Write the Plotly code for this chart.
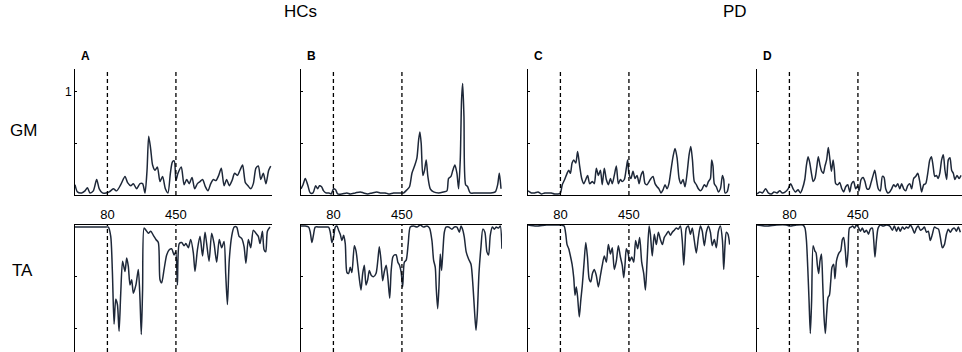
import plotly.graph_objects as go

# ---- datos: tiempo (ms) y amplitud normalizada ----

# GM, sanos (A)
t_gm_a = [-95, -82, -59, -41, -28, -14, 4, 22, 36, 53, 72, 90, 112, 130, 152, 175, 189, 206, 220, 238,
          256, 270, 283, 294, 303, 314, 324, 337, 350, 364, 378, 393, 407, 420, 431, 441, 450, 461, 479, 494,
          508, 522, 537, 551, 566, 580, 594, 609, 623, 638, 652, 666, 681, 695, 710, 724, 738, 753, 767, 782,
          796, 810, 825, 839, 854, 868, 882, 895, 908, 922, 936, 951, 962]
gm_a = [0.10, 0.03, 0.02, 0.04, 0.07, 0.02, 0.04, 0.15, 0.06, 0.02, 0.02, 0.03, 0.06, 0.04, 0.10, 0.18, 0.12, 0.09, 0.11, 0.06,
        0.11, 0.11, 0.02, 0.24, 0.57, 0.44, 0.29, 0.24, 0.27, 0.13, 0.18, 0.06, 0.02, 0.21, 0.32, 0.33, 0.14, 0.21, 0.27, 0.10,
        0.15, 0.11, 0.17, 0.06, 0.11, 0.13, 0.15, 0.08, 0.04, 0.11, 0.15, 0.14, 0.19, 0.26, 0.09, 0.15, 0.09, 0.14, 0.21, 0.19,
        0.24, 0.29, 0.12, 0.09, 0.06, 0.11, 0.26, 0.28, 0.15, 0.21, 0.11, 0.24, 0.28]

# TA, sanos (A)
t_ta_a = [-95, -32, 22, 67, 85, 98, 107, 116, 125, 134, 143, 152, 162, 175, 184, 193, 202, 211, 220, 234,
          247, 256, 263, 270, 278, 288, 301, 314, 328, 342, 355, 364, 373, 386, 400, 414, 427, 440, 449, 458,
          468, 481, 494, 504, 517, 530, 544, 553, 566, 580, 594, 607, 616, 629, 643, 656, 670, 684, 697, 710,
          719, 728, 738, 751, 764, 778, 791, 805, 818, 828, 841, 854, 868, 882, 895, 904, 917, 926, 935, 944, 958]
ta_a = [-0.02, -0.02, -0.02, -0.02, -0.02, -0.11, -0.46, -0.96, -0.72, -0.77, -1.03, -0.66, -0.35, -0.45, -0.32, -0.40, -0.58, -0.53, -0.66, -0.58,
        -0.43, -0.72, -1.06, -0.63, -0.03, -0.05, -0.08, -0.06, -0.10, -0.14, -0.17, -0.53, -0.56, -0.43, -0.29, -0.24, -0.23, -0.29, -0.26, -0.58,
        -0.18, -0.17, -0.20, -0.18, -0.22, -0.14, -0.27, -0.45, -0.24, -0.11, -0.30, -0.07, -0.18, -0.35, -0.08, -0.18, -0.36, -0.14, -0.22, -0.16,
        -0.48, -0.77, -0.34, -0.11, -0.02, -0.02, -0.11, -0.13, -0.21, -0.37, -0.14, -0.22, -0.05, -0.08, -0.11, -0.18, -0.06, -0.24, -0.26, -0.06, -0.02]

# GM, sanos (B)
t_gm_b = [-95, -84, -72, -59, -45, -30, -16, -5, 5, 16, 27, 41, 56, 68, 81, 92, 103, 126, 153, 171,
          198, 225, 243, 265, 288, 315, 333, 360, 378, 405, 427, 445, 459, 477, 491, 504, 518, 531, 540, 547,
          554, 563, 572, 581, 590, 603, 621, 648, 675, 693, 702, 715, 725, 736, 747, 756, 765, 772, 778, 785,
          794, 805, 819, 846, 873, 900, 927, 954, 967, 976, 985]
gm_b = [0.06, 0.10, 0.16, 0.10, 0.02, 0.02, 0.09, 0.06, 0.09, 0.08, 0.04, 0.02, 0.02, 0.01, 0.06, 0.05, 0.01, 0.01, 0.02, 0.01,
        0.02, 0.03, 0.02, 0.01, 0.02, 0.03, 0.02, 0.02, 0.01, 0.02, 0.02, 0.02, 0.02, 0.05, 0.08, 0.21, 0.28, 0.36, 0.53, 0.61,
        0.50, 0.19, 0.24, 0.34, 0.18, 0.06, 0.03, 0.02, 0.03, 0.04, 0.16, 0.18, 0.24, 0.29, 0.21, 0.06, 0.34, 0.92, 1.08, 0.76,
        0.10, 0.08, 0.02, 0.02, 0.02, 0.02, 0.02, 0.03, 0.10, 0.21, 0.06]

# TA, sanos (B)
t_ta_b = [-95, -72, -54, -45, -36, -27, -18, 5, 36, 54, 63, 72, 81, 90, 99, 108, 117, 126, 135, 144,
          153, 162, 171, 180, 193, 202, 211, 220, 229, 238, 247, 256, 265, 274, 285, 297, 310, 320, 328, 337,
          346, 355, 365, 374, 384, 392, 401, 410, 419, 428, 437, 446, 454, 463, 473, 484, 495, 513, 531, 549,
          567, 585, 599, 612, 621, 630, 635, 643, 650, 657, 664, 671, 679, 688, 702, 720, 733, 747, 760, 769,
          779, 787, 797, 810, 823, 834, 843, 850, 857, 866, 877, 887, 898, 909, 918, 927, 938, 949, 959, 972, 981, 990]
ta_b = [-0.01, -0.01, -0.02, -0.07, -0.17, -0.09, -0.02, -0.02, -0.02, -0.02, -0.07, -0.17, -0.12, -0.02, -0.01, -0.05, -0.09, -0.15, -0.10, -0.18,
        -0.46, -0.47, -0.41, -0.46, -0.20, -0.25, -0.38, -0.52, -0.63, -0.47, -0.39, -0.58, -0.53, -0.44, -0.49, -0.50, -0.47, -0.34, -0.21, -0.34,
        -0.54, -0.45, -0.39, -0.51, -0.71, -0.44, -0.31, -0.29, -0.29, -0.36, -0.39, -0.46, -0.60, -0.36, -0.34, -0.18, -0.02, -0.01, -0.02, 0.00,
        -0.02, -0.01, -0.03, -0.15, -0.34, -0.41, -0.60, -0.81, -0.60, -0.28, -0.44, -0.26, -0.07, -0.02, -0.02, -0.04, -0.02, -0.02, -0.07, -0.01,
        -0.05, -0.12, -0.26, -0.33, -0.38, -0.60, -0.86, -1.02, -0.86, -0.47, -0.21, -0.04, -0.07, -0.26, -0.29, -0.10, -0.02, -0.04, -0.02, -0.03,
        -0.01, -0.23]

# GM, Parkinson (C)
t_gm_c = [-95, -77, -59, -41, -23, -5, 13, 31, 49, 67, 80, 90, 103, 116, 125, 134, 143, 152, 163, 173,
          184, 195, 206, 217, 227, 238, 253, 263, 274, 285, 296, 306, 317, 328, 339, 350, 360, 371, 382, 393,
          404, 414, 425, 436, 443, 450, 461, 472, 483, 494, 505, 515, 526, 537, 548, 559, 569, 580, 591, 602,
          612, 623, 634, 645, 656, 666, 677, 688, 699, 710, 721, 731, 742, 753, 764, 775, 784, 793, 803, 814,
          825, 836, 846, 857, 868, 879, 890, 897, 904, 911, 922, 933, 944, 955, 962, 969, 980, 990]
gm_c = [0.04, 0.02, 0.02, 0.03, 0.01, 0.02, 0.02, 0.02, 0.01, 0.01, 0.02, 0.10, 0.15, 0.21, 0.24, 0.21, 0.31, 0.34, 0.31, 0.42,
        0.28, 0.16, 0.11, 0.15, 0.19, 0.11, 0.13, 0.11, 0.26, 0.19, 0.24, 0.10, 0.26, 0.15, 0.10, 0.16, 0.11, 0.19, 0.28, 0.11,
        0.15, 0.13, 0.15, 0.26, 0.34, 0.21, 0.16, 0.23, 0.16, 0.19, 0.11, 0.19, 0.23, 0.11, 0.10, 0.13, 0.16, 0.18, 0.11, 0.08,
        0.06, 0.02, 0.05, 0.10, 0.06, 0.11, 0.24, 0.37, 0.45, 0.36, 0.16, 0.11, 0.15, 0.08, 0.21, 0.39, 0.47, 0.34, 0.13, 0.10,
        0.06, 0.04, 0.06, 0.10, 0.08, 0.13, 0.16, 0.34, 0.28, 0.11, 0.08, 0.03, 0.06, 0.19, 0.15, 0.02, 0.03, 0.11]

# TA, Parkinson (C)
t_ta_c = [-95, -50, 4, 58, 85, 100, 109, 116, 125, 134, 143, 152, 159, 166, 173, 182, 190, 198, 208, 217,
          226, 235, 244, 253, 263, 274, 285, 296, 306, 317, 328, 339, 350, 360, 371, 382, 393, 404, 414, 422,
          429, 436, 445, 454, 465, 476, 486, 497, 508, 519, 530, 539, 548, 559, 566, 576, 587, 598, 609, 620,
          631, 641, 652, 663, 674, 684, 695, 706, 717, 728, 738, 746, 753, 760, 771, 782, 792, 803, 814, 825,
          836, 846, 857, 868, 879, 890, 900, 911, 922, 933, 944, 955, 962, 969, 976, 985, 994]
ta_c = [0.00, -0.01, 0.00, 0.00, 0.00, -0.01, -0.09, -0.19, -0.23, -0.30, -0.38, -0.51, -0.68, -0.60, -0.70, -0.89, -0.73, -0.59, -0.36, -0.17,
        -0.31, -0.52, -0.55, -0.47, -0.43, -0.49, -0.60, -0.49, -0.39, -0.30, -0.36, -0.19, -0.28, -0.22, -0.43, -0.35, -0.20, -0.31, -0.39, -0.51,
        -0.38, -0.23, -0.27, -0.35, -0.31, -0.36, -0.15, -0.23, -0.12, -0.36, -0.47, -0.63, -0.35, -0.01, -0.09, -0.30, -0.09, -0.19, -0.07, -0.14,
        -0.19, -0.12, -0.09, -0.06, -0.10, -0.07, -0.05, -0.03, -0.04, -0.01, -0.15, -0.39, -0.19, -0.03, -0.01, -0.09, -0.03, -0.15, -0.27, -0.12,
        -0.01, -0.06, -0.20, -0.07, -0.01, -0.07, -0.20, -0.14, -0.22, -0.06, -0.01, -0.15, -0.43, -0.19, -0.07, -0.09, -0.19]

# GM, Parkinson (D)
t_gm_d = [-95, -80, -66, -48, -34, -17, -3, 13, 28, 42, 58, 73, 87, 100, 112, 127, 139, 150, 163, 172,
          181, 190, 199, 208, 218, 227, 236, 245, 254, 263, 272, 281, 290, 299, 307, 316, 323, 330, 341, 352,
          363, 373, 384, 395, 406, 416, 427, 438, 449, 456, 467, 478, 488, 499, 510, 521, 532, 541, 550, 560,
          571, 582, 591, 600, 611, 622, 632, 643, 654, 665, 676, 686, 697, 708, 719, 730, 740, 751, 762, 773,
          784, 794, 805, 816, 827, 838, 847, 856, 865, 874, 883, 892, 902, 911, 920, 929, 938, 947, 956, 965,
          974, 985, 996, 1007]
gm_d = [0.01, 0.03, 0.02, 0.06, 0.02, 0.01, 0.03, 0.02, 0.04, 0.02, 0.03, 0.06, 0.11, 0.06, 0.03, 0.05, 0.02, 0.06, 0.15, 0.29,
        0.37, 0.31, 0.21, 0.13, 0.16, 0.26, 0.37, 0.29, 0.23, 0.21, 0.28, 0.34, 0.46, 0.34, 0.23, 0.34, 0.24, 0.11, 0.10, 0.12,
        0.06, 0.03, 0.08, 0.10, 0.03, 0.11, 0.13, 0.06, 0.09, 0.04, 0.15, 0.17, 0.13, 0.06, 0.06, 0.12, 0.19, 0.24, 0.15, 0.06,
        0.04, 0.18, 0.17, 0.06, 0.02, 0.03, 0.06, 0.10, 0.08, 0.11, 0.06, 0.11, 0.06, 0.04, 0.09, 0.11, 0.06, 0.16, 0.18, 0.21,
        0.13, 0.03, 0.10, 0.11, 0.21, 0.34, 0.37, 0.28, 0.18, 0.19, 0.16, 0.21, 0.34, 0.39, 0.24, 0.15, 0.34, 0.36, 0.24, 0.21,
        0.15, 0.19, 0.16, 0.19]

# TA, Parkinson (D)
t_ta_d = [-95, -44, 10, 64, 82, 118, 154, 164, 172, 179, 186, 193, 200, 208, 217, 224, 231, 238, 245, 253,
          260, 267, 274, 281, 289, 296, 303, 310, 319, 326, 334, 341, 348, 357, 366, 373, 382, 389, 397, 404,
          413, 422, 431, 442, 452, 463, 474, 485, 496, 507, 517, 528, 535, 542, 550, 559, 571, 586, 604, 622,
          636, 647, 658, 668, 679, 690, 701, 712, 722, 733, 744, 755, 766, 776, 787, 798, 809, 820, 830, 841,
          852, 863, 874, 885, 895, 906, 917, 928, 938, 949, 960, 971, 982, 992, 1003]
ta_d = [0.00, -0.01, 0.00, 0.00, -0.01, 0.00, 0.00, -0.03, -0.15, -0.41, -0.73, -1.05, -0.73, -0.20, -0.25, -0.27, -0.39, -0.47, -0.35, -0.28,
        -0.57, -0.89, -1.05, -0.86, -0.70, -0.68, -0.55, -0.41, -0.38, -0.52, -0.35, -0.30, -0.27, -0.25, -0.14, -0.12, -0.25, -0.41, -0.25, -0.03,
        -0.02, -0.01, -0.03, 0.00, -0.02, -0.06, -0.03, -0.07, -0.05, -0.09, -0.04, -0.03, -0.14, -0.31, -0.15, -0.03, 0.00, -0.01, 0.00, -0.01,
        -0.05, -0.01, -0.06, -0.02, -0.06, -0.02, -0.04, -0.02, -0.03, 0.00, -0.03, -0.08, -0.03, -0.01, -0.05, -0.04, -0.02, -0.07, -0.06, -0.15,
        -0.09, -0.02, -0.03, -0.04, -0.12, -0.22, -0.19, -0.09, -0.04, -0.07, -0.04, -0.03, -0.06, -0.02, -0.07]

paneles = ["A", "B", "C", "D"]
marcas = [80, 450]   # lineas verticales (ms)

series = [(t_gm_a, gm_a, t_ta_a, ta_a),
          (t_gm_b, gm_b, t_ta_b, ta_b),
          (t_gm_c, gm_c, t_ta_c, ta_c),
          (t_gm_d, gm_d, t_ta_d, ta_d)]

# ---- layout ----
W, H = 962, 352
col_px = [(75, 272), (301, 502), (528, 730), (757, 962)]   # bordes de cada columna en px
ms_px = 5.4                                                # ms por pixel
fila_gm = [1 - 195 / H, 1 - 69 / H]
fila_ta = [0, 1 - 225 / H]
color_linea = "#1e2839"
fuente = "Liberation Sans, Arial, sans-serif"

fig = go.Figure()
lay = {}
shapes = []

for i, (tg, g, tt, ta) in enumerate(series):
    n1 = 2 * i + 1
    n2 = 2 * i + 2
    s1 = "" if n1 == 1 else str(n1)
    s2 = str(n2)
    x0, x1 = col_px[i]
    dom = [x0 / W, x1 / W]
    rng = [-95, -95 + (x1 - x0) * ms_px]

    fig.add_trace(go.Scatter(x=tg, y=g, xaxis="x" + s1, yaxis="y" + s1, mode="lines",
                             line=dict(color=color_linea, width=1.5, shape="spline", smoothing=0.7),
                             hoverinfo="skip"))
    fig.add_trace(go.Scatter(x=tt, y=ta, xaxis="x" + s2, yaxis="y" + s2, mode="lines",
                             line=dict(color=color_linea, width=1.5, shape="spline", smoothing=0.7),
                             hoverinfo="skip"))

    # fila GM
    lay["xaxis" + s1] = dict(domain=dom, range=rng, anchor="y" + s1, showline=True, linecolor="black",
                             linewidth=1, showticklabels=False, ticks="", showgrid=False, zeroline=False)
    lay["yaxis" + s1] = dict(domain=fila_gm, range=[0, 1.22], anchor="x" + s1, showline=True,
                             linecolor="black", linewidth=1, ticks="inside", ticklen=2, tickcolor="black",
                             tickvals=[0.5, 1], ticktext=["", "1"], showticklabels=(i == 0),
                             tickfont=dict(size=12, color="black"), showgrid=False, zeroline=False)
    # fila TA
    lay["xaxis" + s2] = dict(domain=dom, range=rng, anchor="y" + s2, side="top", showline=True,
                             linecolor="black", linewidth=1, ticks="", tickvals=marcas,
                             ticktext=[str(m) for m in marcas], tickfont=dict(size=13, color="black"),
                             showgrid=False, zeroline=False)
    lay["yaxis" + s2] = dict(domain=fila_ta, range=[-1.23, 0], anchor="x" + s2, showline=True,
                             linecolor="black", linewidth=1, ticks="inside", ticklen=2, tickcolor="black",
                             tickvals=[-1, -0.5], showticklabels=False, showgrid=False, zeroline=False)

    for s in (s1, s2):
        for m in marcas:
            shapes.append(dict(type="line", xref="x" + s, yref="y" + s + " domain", x0=m, x1=m, y0=0, y1=1,
                               line=dict(color="black", width=1.3, dash="4px,3px")))

anot = []
for i, p in enumerate(paneles):
    anot.append(dict(text="<b>" + p + "</b>", x=(col_px[i][0] + 10) / W, y=1 - 56 / H, xref="paper",
                     yref="paper", showarrow=False, xanchor="center", yanchor="middle",
                     font=dict(size=12, color="black")))
anot.append(dict(text="HCs", x=300 / W, y=1 - 12 / H, xref="paper", yref="paper", showarrow=False,
                 xanchor="center", yanchor="middle", font=dict(size=17, color="black")))
anot.append(dict(text="PD", x=735 / W, y=1 - 12 / H, xref="paper", yref="paper", showarrow=False,
                 xanchor="center", yanchor="middle", font=dict(size=17, color="black")))
anot.append(dict(text="GM", x=23 / W, y=1 - 130 / H, xref="paper", yref="paper", showarrow=False,
                 xanchor="center", yanchor="middle", font=dict(size=17, color="black")))
anot.append(dict(text="TA", x=22 / W, y=1 - 270 / H, xref="paper", yref="paper", showarrow=False,
                 xanchor="center", yanchor="middle", font=dict(size=17, color="black")))

fig.update_layout(width=W, height=H, margin=dict(l=0, r=0, t=0, b=0), showlegend=False,
                  plot_bgcolor="white", paper_bgcolor="white", font=dict(family=fuente, color="black"),
                  shapes=shapes, annotations=anot, **lay)

# sin barra de herramientas y sin el margen por defecto del body
fig.write_html("out.html", config={"displayModeBar": False},
               post_script="document.body.style.margin='0';")
